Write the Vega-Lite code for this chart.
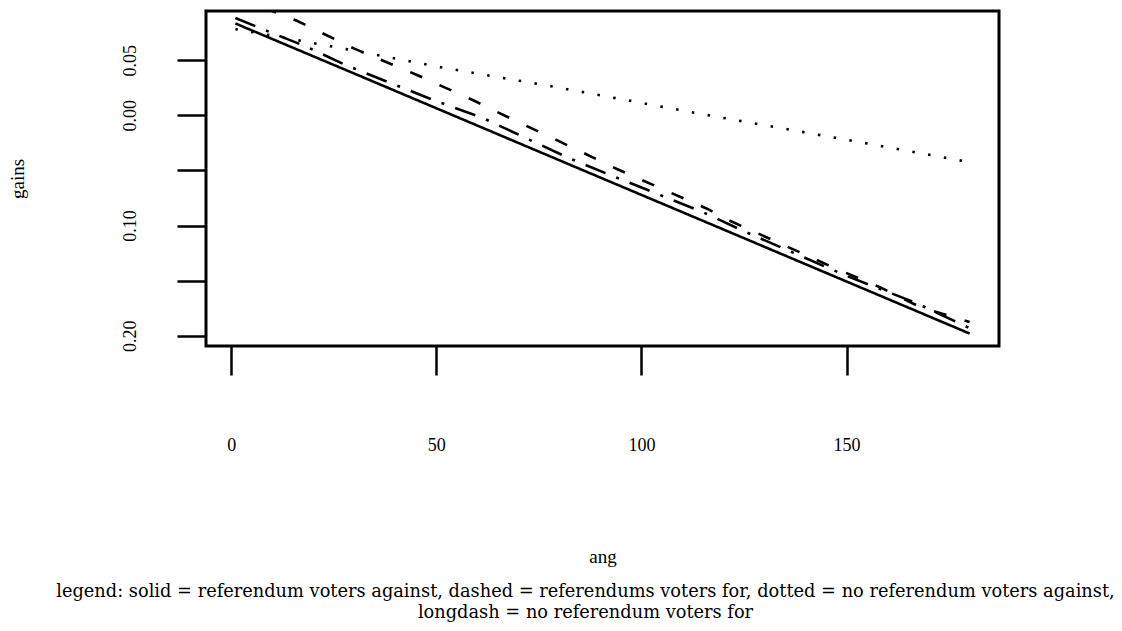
{
  "$schema": "https://vega.github.io/schema/vega-lite/v6.json",
  "width": 793,
  "height": 335,
  "autosize": {"type": "none"},
  "padding": {"left": 206, "top": 11, "right": 123, "bottom": 285},
  "background": "white",
  "config": {
    "font": "Liberation Serif",
    "view": {"stroke": "black", "strokeWidth": 3},
    "axis": {
      "domain": false,
      "grid": false,
      "ticks": true,
      "tickSize": 29,
      "tickWidth": 2.5,
      "tickColor": "black",
      "labelFont": "Liberation Serif",
      "labelFontSize": 18,
      "labelColor": "black",
      "labelFlush": false,
      "labelOverlap": false,
      "titleFont": "Liberation Serif",
      "titleFontSize": 19,
      "titleFontWeight": "normal",
      "titleColor": "black"
    }
  },
  "title": {
    "text": [
      "legend: solid = referendum voters against, dashed = referendums voters for, dotted = no referendum voters against,",
      "longdash = no referendum voters for"
    ],
    "orient": "bottom",
    "anchor": "middle",
    "font": "DejaVu Serif",
    "fontSize": 17.8,
    "fontWeight": "normal",
    "color": "black",
    "lineHeight": 21,
    "offset": 17,
    "dx": -17
  },
  "data": {
    "values": [
      {"ang": 1, "gains": 0.0834, "series": "referendum voters against"},
      {"ang": 30, "gains": 0.0379, "series": "referendum voters against"},
      {"ang": 60, "gains": -0.0093, "series": "referendum voters against"},
      {"ang": 90, "gains": -0.0565, "series": "referendum voters against"},
      {"ang": 120, "gains": -0.1036, "series": "referendum voters against"},
      {"ang": 150, "gains": -0.1508, "series": "referendum voters against"},
      {"ang": 180, "gains": -0.198, "series": "referendum voters against"},

      {"ang": 1, "gains": 0.111, "series": "referendums voters for"},
      {"ang": 10, "gains": 0.0947, "series": "referendums voters for"},
      {"ang": 16, "gains": 0.0858, "series": "referendums voters for"},
      {"ang": 30, "gains": 0.0605, "series": "referendums voters for"},
      {"ang": 45, "gains": 0.0371, "series": "referendums voters for"},
      {"ang": 59, "gains": 0.0137, "series": "referendums voters for"},
      {"ang": 65, "gains": 0.0027, "series": "referendums voters for"},
      {"ang": 80, "gains": -0.0236, "series": "referendums voters for"},
      {"ang": 94, "gains": -0.0487, "series": "referendums voters for"},
      {"ang": 116, "gains": -0.0847, "series": "referendums voters for"},
      {"ang": 121, "gains": -0.0947, "series": "referendums voters for"},
      {"ang": 147, "gains": -0.1384, "series": "referendums voters for"},
      {"ang": 158, "gains": -0.1557, "series": "referendums voters for"},
      {"ang": 168, "gains": -0.174, "series": "referendums voters for"},
      {"ang": 180, "gains": -0.1876, "series": "referendums voters for"},

      {"ang": 1, "gains": 0.0783, "series": "no referendum voters against"},
      {"ang": 16, "gains": 0.0683, "series": "no referendum voters against"},
      {"ang": 28, "gains": 0.0601, "series": "no referendum voters against"},
      {"ang": 51, "gains": 0.0437, "series": "no referendum voters against"},
      {"ang": 78, "gains": 0.0264, "series": "no referendum voters against"},
      {"ang": 116, "gains": 0.0003, "series": "no referendum voters against"},
      {"ang": 151, "gains": -0.0228, "series": "no referendum voters against"},
      {"ang": 180, "gains": -0.0425, "series": "no referendum voters against"},

      {"ang": 1, "gains": 0.0883, "series": "no referendum voters for"},
      {"ang": 7, "gains": 0.0792, "series": "no referendum voters for"},
      {"ang": 18, "gains": 0.0628, "series": "no referendum voters for"},
      {"ang": 28, "gains": 0.0455, "series": "no referendum voters for"},
      {"ang": 39, "gains": 0.0291, "series": "no referendum voters for"},
      {"ang": 50, "gains": 0.0128, "series": "no referendum voters for"},
      {"ang": 61, "gains": -0.0018, "series": "no referendum voters for"},
      {"ang": 82, "gains": -0.0383, "series": "no referendum voters for"},
      {"ang": 93, "gains": -0.0551, "series": "no referendum voters for"},
      {"ang": 104, "gains": -0.0715, "series": "no referendum voters for"},
      {"ang": 115, "gains": -0.0879, "series": "no referendum voters for"},
      {"ang": 125, "gains": -0.1052, "series": "no referendum voters for"},
      {"ang": 150, "gains": -0.1457, "series": "no referendum voters for"},
      {"ang": 167, "gains": -0.1703, "series": "no referendum voters for"},
      {"ang": 180, "gains": -0.1931, "series": "no referendum voters for"}
    ]
  },
  "mark": {"type": "line", "color": "black", "strokeWidth": 2.6, "strokeCap": "butt", "clip": true},
  "encoding": {
    "x": {
      "field": "ang",
      "type": "quantitative",
      "scale": {"domain": [-6.16, 187.16], "nice": false, "zero": false},
      "axis": {
        "values": [0, 50, 100, 150],
        "labelBaseline": "middle",
        "labelPadding": 70,
        "title": "ang",
        "titlePadding": 93
      }
    },
    "y": {
      "field": "gains",
      "type": "quantitative",
      "scale": {"domain": [-0.2093, 0.0947], "nice": false, "zero": false},
      "axis": {
        "values": [0.05, 0, -0.05, -0.1, -0.15, -0.2],
        "labelExpr": "(datum.value < -0.04 && datum.value > -0.06) || (datum.value < -0.14 && datum.value > -0.16) ? '' : format(abs(datum.value), '.2f')",
        "labelAngle": -90,
        "labelAlign": "center",
        "labelBaseline": "middle",
        "labelPadding": 47,
        "title": "gains",
        "titlePadding": 94
      }
    },
    "strokeDash": {
      "field": "series",
      "type": "nominal",
      "scale": {
        "domain": ["referendum voters against", "referendums voters for", "no referendum voters against", "no referendum voters for"],
        "range": [[1, 0], [13, 19], [2.5, 13.5], [21.5, 11.5, 3, 11.5]]
      },
      "legend": null
    }
  }
}
